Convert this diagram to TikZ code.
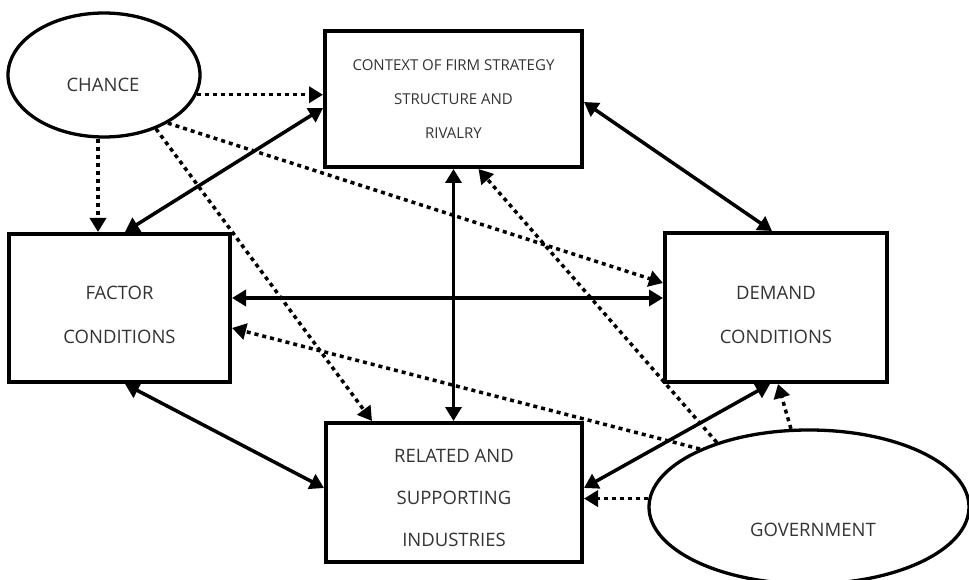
\documentclass[tikz,border=0pt]{standalone}
\usepackage{fontspec}
\setmainfont{Open Sans}
\usetikzlibrary{arrows.meta,shapes.geometric}
\definecolor{txt}{HTML}{333333}
\tikzset{
  big/.style={font=\fontsize{18.5}{44}\selectfont, text=txt},
  box/.style={draw, line width=4pt, rectangle, align=center, big},
  oval/.style={draw, line width=3.3pt, ellipse},
  bothway/.style={line width=3.5pt, {Triangle[length=14pt,width=16pt]}-{Triangle[length=14pt,width=16pt]}},
  dotway/.style={line width=3.5pt, dash pattern=on 4pt off 4pt, -{Triangle[length=14pt,width=16pt]}}
}
\begin{document}
\begin{tikzpicture}[x=1pt,y=-1pt]
\useasboundingbox (0,0) rectangle (969,580);
% shapes
\node[oval, minimum width=192pt, minimum height=124pt] (chance) at (104,75) {};
\node[big] (chancetxt) at (103,85) {CHANCE};
\node[oval, minimum width=320pt, minimum height=154pt] (gov) at (809,507) {};
\node[big] (govtxt) at (813,530) {GOVERNMENT};
\node[box, minimum width=257pt, minimum height=136pt, font=\fontsize{15}{34}\selectfont] (top) at (453.5,99)
  {CONTEXT OF FIRM STRATEGY\\STRUCTURE AND\\RIVALRY};
\node[box, minimum width=221pt, minimum height=148pt,
  label={[big, align=center, yshift=-7pt]center:FACTOR\\CONDITIONS}] (factor) at (119.5,308) {};
\node[box, minimum width=222pt, minimum height=149pt,
  label={[big, align=center, yshift=-7pt]center:DEMAND\\CONDITIONS}] (demand) at (776,307.5) {};
\node[box, minimum width=256pt, minimum height=139pt,
  label={[big, font=\fontsize{18.5}{42}\selectfont, align=center, yshift=-5pt]center:RELATED AND\\SUPPORTING\\INDUSTRIES}] (related) at (454,492.5) {};
% chance arrows
\draw[dotway] (chance.-12) -- (chance.-12 -| top.west);
\draw[dotway] ([xshift=-6pt]chance.south) -- ([xshift=-6pt]chance.south |- factor.north);
\draw[dotway] (chance.-37) -- ([yshift=24.5pt]demand.west);
\draw[dotway] (chance.-46) -- ([xshift=-82pt]related.north);
% diamond links
\draw[bothway] ([xshift=5.5pt]factor.north) -- ([yshift=-9pt]top.west);
\draw[bothway] (top.south) -- (top.south |- related.north);
\draw[bothway] ([yshift=10pt]factor.east) -- ([yshift=10pt]factor.east -| demand.west);
\draw[bothway] ([yshift=-3pt]top.east) -- ([xshift=-4pt]demand.north);
\draw[bothway] ([xshift=5.5pt]factor.south) -- ([yshift=4.5pt]related.west);
\draw[bothway] ([yshift=4.5pt]related.east) -- ([xshift=-6pt]demand.south);
% government arrows
\draw[dotway] (gov.152) -- ([yshift=-20pt]factor.east);
\draw[dotway] (gov.145) -- ([xshift=25pt]top.south);
\draw[dotway] (gov.103) -- ([xshift=2pt]demand.south);
\draw[dotway] (gov.177) -- (gov.177 -| related.east);
\end{tikzpicture}
\end{document}
